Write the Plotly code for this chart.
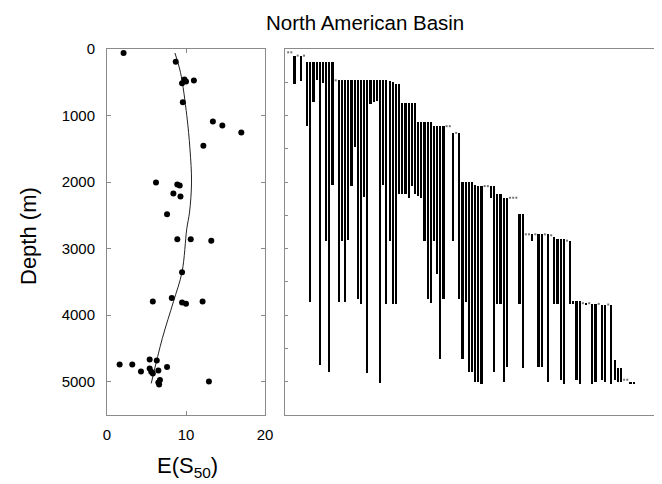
import plotly.graph_objects as go

# ---------------- data ----------------
# Left panel: E(S50) per sample vs depth
sample_depth = [60, 190, 460, 490, 515, 475, 800, 1090, 1150, 1255, 1455,
                2005, 2035, 2050, 2170, 2215, 2485,
                2860, 2860, 2880, 3355, 3795, 3740, 3810, 3830, 3795,
                4740, 4740, 4845, 4665, 4680, 4800, 4850, 4875, 4830, 4780,
                5010, 4975, 5040, 4995]
sample_es50 = [2.1, 8.7, 9.8, 10.0, 9.5, 11.0, 9.6, 13.4, 14.6, 17.0, 12.2,
               6.2, 8.9, 9.2, 8.4, 9.3, 7.6,
               8.9, 10.6, 13.2, 9.5, 5.8, 8.2, 9.5, 10.0, 12.1,
               1.6, 3.2, 4.3, 5.4, 6.3, 5.4, 5.6, 5.8, 6.5, 7.6,
               6.5, 6.7, 6.6, 12.9]

# fitted trend
curve_depth = [60, 350, 1000, 1500, 2000, 2450, 2700, 3350, 3800, 4350, 5025]
curve_es50 = [8.6, 9.3, 10.1, 10.5, 10.7, 10.45, 10.1, 9.5, 8.4, 7.0, 5.6]

# Right panel: depth ranges (top, bottom) of each taxon, in plotted order
taxa_top = [50, 50, 100, 100, 100, 100, 200, 200, 200, 200,
            200, 200, 200, 200, 200, 470, 470, 470, 470, 470,
            470, 470, 470, 470, 470, 470, 470, 470, 470, 470,
            470, 470, 480, 490, 525, 525, 810, 810, 810, 810,
            810, 1100, 1100, 1100, 1100, 1100, 1160, 1160, 1160, 1160,
            1160, 1160, 1260, 1260, 1260, 2000, 2000, 2000, 2000, 2040,
            2060, 2060, 2060, 2060, 2060, 2060, 2185, 2185, 2235, 2235,
            2235, 2235, 2235, 2485, 2485, 2785, 2785, 2785, 2785, 2785,
            2785, 2785, 2785, 2800, 2830, 2860, 2860, 2860, 2880, 2880,
            3790, 3790, 3790, 3820, 3820, 3820, 3825, 3825, 3830, 3840,
            3840, 3840, 3840, 4680, 4790, 4790, 4970, 4970, 5000, 5000]
taxa_bottom = [50, 50, 520, 100, 480, 100, 1160, 3800, 800, 470,
               4750, 515, 2880, 4860, 2050, 470, 3800, 2880, 3800, 2870,
               2060, 1470, 3750, 3825, 2220, 4865, 825, 800, 780, 5015,
               2050, 3825, 2880, 3825, 3825, 2185, 2185, 2185, 2235, 2060,
               2185, 2210, 2235, 2885, 3760, 3810, 2885, 3385, 4660, 3760,
               1160, 1160, 2885, 1260, 3760, 4665, 3800, 4850, 4850, 5000,
               5000, 5035, 2060, 2060, 2235, 4850, 3825, 3825, 5000, 4775,
               2235, 2235, 2235, 3830, 4800, 2785, 2785, 2880, 2785, 4775,
               4775, 2785, 5000, 2800, 3825, 3825, 4980, 5040, 2880, 3825,
               3825, 4980, 5040, 3820, 3850, 3820, 5040, 5000, 3830, 4980,
               5000, 3840, 5040, 4980, 5000, 5000, 4970, 4970, 5040, 5040]

depth_ticks = [0, 1000, 2000, 3000, 4000, 5000]
es50_ticks = [0, 10, 20]

# ---------------- figure ----------------
FONT = "Arial, Liberation Sans, sans-serif"
fig = go.Figure()

fig.add_trace(go.Scatter(x=curve_es50, y=curve_depth, mode="lines",
                         line=dict(color="#222", width=1, shape="spline"),
                         xaxis="x", yaxis="y", showlegend=False))
fig.add_trace(go.Scatter(x=sample_es50, y=sample_depth, mode="markers",
                         marker=dict(color="black", size=6),
                         xaxis="x", yaxis="y", showlegend=False))

idx = list(range(len(taxa_top)))
bar_x = [i for i in idx if taxa_bottom[i] > taxa_top[i]]
fig.add_trace(go.Bar(x=bar_x,
                     y=[taxa_bottom[i] - taxa_top[i] for i in bar_x],
                     base=[taxa_top[i] for i in bar_x],
                     width=0.68, marker=dict(color="black", line=dict(width=0)),
                     xaxis="x2", yaxis="y2", showlegend=False))
dot_x = [i for i in idx if taxa_bottom[i] <= taxa_top[i]]
fig.add_trace(go.Scatter(x=dot_x, y=[taxa_top[i] for i in dot_x], mode="markers",
                         marker=dict(symbol="square", size=2, color="#777"),
                         xaxis="x2", yaxis="y2", showlegend=False))

# page body has an 8px margin: figure is 8px smaller on each side and
# every target pixel position is shifted by -8
W, H = 654, 476
OFF = 8


def px(v):
    return (v - OFF) / W


def py(v):
    return 1 - (v - OFF) / H


frame = "#8a8a8a"
fig.update_layout(
    width=W, height=H,
    margin=dict(l=0, r=0, t=0, b=0, pad=0, autoexpand=False),
    paper_bgcolor="white", plot_bgcolor="white",
    font=dict(family=FONT, color="black", size=15),
    xaxis=dict(domain=[px(107), px(265)], range=[0, 20], tickvals=es50_ticks,
               showgrid=False, zeroline=False, showline=True, linecolor=frame,
               linewidth=1, mirror="ticks", ticks="inside", ticklen=4,
               tickcolor=frame, tickfont=dict(size=15), ticklabelstandoff=6,
               automargin=False),
    yaxis=dict(domain=[py(415), py(49)], range=[5500, 0],
               tickvals=depth_ticks, showgrid=False, zeroline=False,
               showline=True, linecolor=frame, linewidth=1, mirror="ticks",
               ticks="inside", ticklen=4, tickcolor=frame,
               tickfont=dict(size=15), ticklabelstandoff=8, automargin=False),
    xaxis2=dict(domain=[px(285), px(658)], range=[-1, 116.7],
                showticklabels=False, ticks="", showgrid=False, zeroline=False,
                showline=True, linecolor=frame, linewidth=1, mirror=True,
                automargin=False),
    yaxis2=dict(domain=[py(415), py(49)], range=[5500, 0],
                anchor="x2", dtick=500, tick0=0, showticklabels=False,
                ticks="inside", ticklen=3, tickcolor=frame, showgrid=False,
                zeroline=False, showline=True, linecolor=frame, linewidth=1,
                mirror=True, automargin=False),
    bargap=0,
    annotations=[
        dict(text="North American Basin", x=px(365), y=py(22),
             xref="paper", yref="paper", showarrow=False,
             xanchor="center", yanchor="middle",
             font=dict(size=20.5, family=FONT)),
        dict(text="Depth (m)", x=px(28), y=py(236), xref="paper",
             yref="paper", showarrow=False, textangle=-90,
             xanchor="center", yanchor="middle",
             font=dict(size=22, family=FONT)),
        dict(text="E(S<sub>50</sub>)", x=px(187), y=py(467),
             xref="paper", yref="paper", showarrow=False,
             xanchor="center", yanchor="middle",
             font=dict(size=22, family=FONT)),
    ],
)

fig.write_html("out.html", config={"displayModeBar": False})
